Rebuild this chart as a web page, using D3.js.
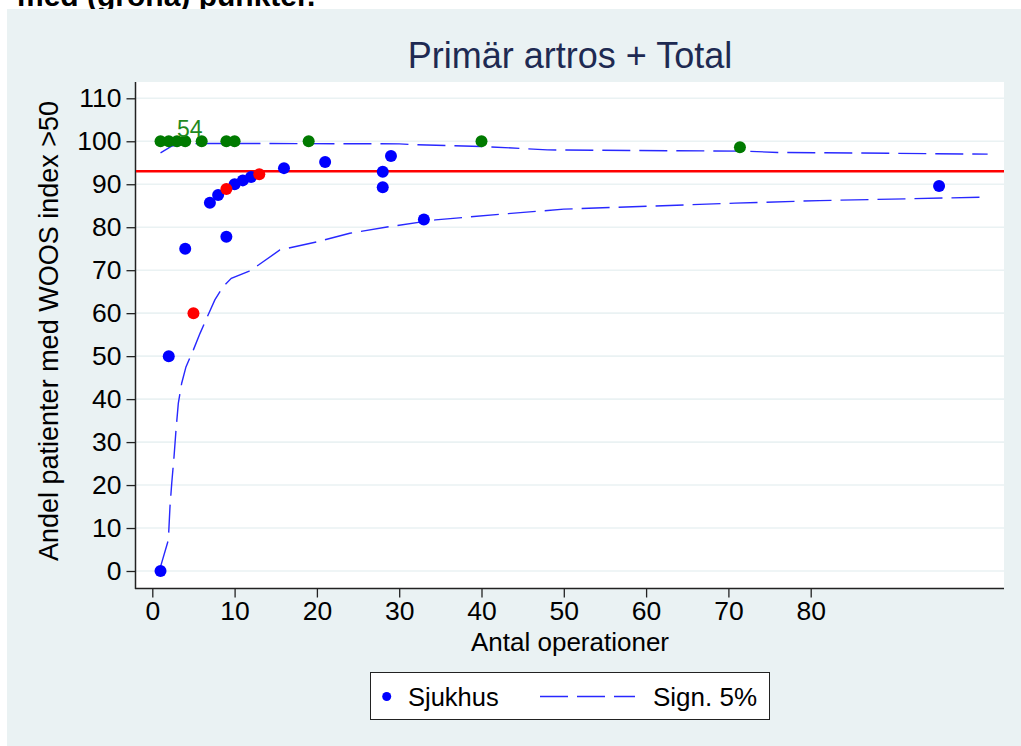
<!DOCTYPE html>
<meta charset="utf-8">
<script src="https://d3js.org/d3.v7.min.js"></script>
<style>
   body {
      margin: 0;
      padding: 0;
      background-color: white;
      font-family: "Liberation Sans", Arial, sans-serif;
   }
</style>

<body>
   <svg id="chart" width="1021" height="746"></svg>
   <script>

      // hospitals (blue)
      var blueN = [1, 2, 4, 7, 8, 9, 10, 11, 12, 16, 21, 28, 28, 29, 33, 95.6]
      var bluePct = [0, 50, 75, 85.7, 87.5, 77.8, 90, 90.9, 91.7, 93.75, 95.2, 92.9, 89.3, 96.6, 81.8, 89.6]

      // flagged (red)
      var redN = [5, 9, 13]
      var redPct = [60, 88.9, 92.3]

      // green points
      var greenN = [1, 2, 3, 4, 6, 9, 10, 19, 40, 71.4]
      var greenPct = [100, 100, 100, 100, 100, 100, 100, 100, 100, 98.6]

      // funnel limits (Sign. 5%)
      var upperN = [1, 2.4, 4, 6, 30, 32, 40, 48, 63, 72, 76, 90, 101.5]
      var upperPct = [97.3, 98.9, 99.4, 99.5, 99.4, 99.2, 98.8, 98.0, 97.8, 97.7, 97.4, 97.2, 97.0]

      var lowerN = [0.94, 1.95, 2.15, 2.36, 2.64, 2.88, 3.16, 3.57, 4.09, 4.98, 5.8, 6.6, 7.6, 8.6, 9.6, 11.7, 12.9, 15.5, 20, 24, 28.7, 34.4, 42.2, 50, 60.4, 70.8, 81.1, 91.5, 100.9]
      var lowerPct = [0.6, 7.2, 15.0, 20.4, 26.6, 32.8, 39.0, 43.7, 47.5, 51.4, 55.3, 58.8, 63.1, 66.2, 68.1, 69.7, 71.2, 74.7, 76.6, 78.6, 80.1, 81.7, 83.0, 84.2, 84.9, 85.6, 86.2, 86.6, 87.0]

      var totalPct = 93.0
      var xTicks = [0, 10, 20, 30, 40, 50, 60, 70, 80]
      var yTicks = [0, 10, 20, 30, 40, 50, 60, 70, 80, 90, 100, 110]
      var pointLabel = { n: 3, pct: 100, text: "54" }

      var svg = d3.select("#chart")

      var plotLeft = 136, plotRight = 1004, plotTop = 82, plotBottom = 588

      var x = d3.scaleLinear().domain([0, 100]).range([152.3, 975.3])
      var y = d3.scaleLinear().domain([0, 110]).range([571, 98.3])

      // cut-off text from the page above
      svg.append("text")
         .attr("x", 17)
         .attr("y", 6)
         .style("font-size", "30px")
         .style("font-weight", "bold")
         .text("med (gröna) punkter.")

      // graph region
      svg.append("rect")
         .attr("x", 7).attr("y", 9)
         .attr("width", 1014).attr("height", 737)
         .attr("fill", "#eaf2f3")

      svg.append("rect")
         .attr("x", plotLeft).attr("y", plotTop)
         .attr("width", plotRight - plotLeft).attr("height", plotBottom - plotTop)
         .attr("fill", "white")

      // grid
      svg.append("g")
         .selectAll("line")
         .data(yTicks)
         .enter()
         .append("line")
         .attr("x1", plotLeft).attr("x2", plotRight)
         .attr("y1", function (d) { return y(d) }).attr("y2", function (d) { return y(d) })
         .attr("stroke", "#eaf2f3")
         .attr("stroke-width", 1.6)

      // axes
      var yAxis = d3.axisLeft(y).tickValues(yTicks).tickSize(9).tickPadding(5)
      var xAxis = d3.axisBottom(x).tickValues(xTicks).tickSize(9).tickPadding(4)

      var gy = svg.append("g")
         .attr("transform", "translate(" + (plotLeft - 0.5) + ",0)")
         .call(yAxis)
      gy.select(".domain").remove()

      var gx = svg.append("g")
         .attr("transform", "translate(0," + (plotBottom + 0.5) + ")")
         .call(xAxis)
      gx.select(".domain").remove()

      svg.selectAll(".tick line").attr("stroke", "#222").attr("stroke-width", 1.3)
      svg.selectAll(".tick text")
         .attr("fill", "black")
         .style("font-family", "'Liberation Sans', Arial, sans-serif")
         .style("font-size", "26.5px")

      svg.append("line")
         .attr("x1", plotLeft - 0.5).attr("x2", plotLeft - 0.5)
         .attr("y1", plotTop).attr("y2", plotBottom + 1)
         .attr("stroke", "#222").attr("stroke-width", 1.5)
      svg.append("line")
         .attr("x1", plotLeft - 1).attr("x2", plotRight)
         .attr("y1", plotBottom + 0.5).attr("y2", plotBottom + 0.5)
         .attr("stroke", "#222").attr("stroke-width", 1.5)

      // funnel limits
      var line = d3.line()
         .x(function (d) { return x(d[0]) })
         .y(function (d) { return y(d[1]) })

      var upper = d3.zip(upperN, upperPct)
      var lower = d3.zip(lowerN, lowerPct)

      svg.selectAll("path.limit")
         .data([upper, lower])
         .enter()
         .append("path")
         .attr("class", "limit")
         .attr("d", line)
         .attr("fill", "none")
         .attr("stroke", "#2828ff")
         .attr("stroke-width", 1.4)
         .attr("stroke-dasharray", "28,9")

      // total reference line
      svg.append("line")
         .attr("x1", plotLeft).attr("x2", plotRight)
         .attr("y1", y(totalPct)).attr("y2", y(totalPct))
         .attr("stroke", "#ff0000")
         .attr("stroke-width", 2.5)

      // points
      function dots(ns, pcts, color) {
         svg.append("g")
            .selectAll("circle")
            .data(d3.zip(ns, pcts))
            .enter()
            .append("circle")
            .attr("cx", function (d) { return x(d[0]) })
            .attr("cy", function (d) { return y(d[1]) })
            .attr("r", 6)
            .attr("fill", color)
      }
      dots(blueN, bluePct, "#0000ff")
      dots(redN, redPct, "#ff0000")
      dots(greenN, greenPct, "#007a00")

      svg.append("text")
         .attr("x", x(pointLabel.n))
         .attr("y", y(pointLabel.pct) - 4)
         .attr("fill", "#1f8a1f")
         .style("font-size", "23px")
         .text(pointLabel.text)

      // titles
      svg.append("text")
         .attr("x", (plotLeft + plotRight) / 2)
         .attr("y", 68)
         .attr("text-anchor", "middle")
         .attr("fill", "#1e2a52")
         .style("font-size", "36px")
         .text("Primär artros + Total")

      svg.append("text")
         .attr("transform", "translate(58,331) rotate(-90)")
         .attr("text-anchor", "middle")
         .style("font-size", "27px")
         .text("Andel patienter med WOOS index >50")

      svg.append("text")
         .attr("x", (plotLeft + plotRight) / 2)
         .attr("y", 651)
         .attr("text-anchor", "middle")
         .style("font-size", "26px")
         .text("Antal operationer")

      // legend
      var legend = svg.append("g")
      legend.append("rect")
         .attr("x", 370.5).attr("y", 672.5)
         .attr("width", 399).attr("height", 47)
         .attr("fill", "white")
         .attr("stroke", "#222")
         .attr("stroke-width", 1)
      legend.append("circle")
         .attr("cx", 386.7).attr("cy", 696.5)
         .attr("r", 4.5)
         .attr("fill", "#0000ff")
      legend.append("text")
         .attr("x", 408).attr("y", 705.5)
         .style("font-size", "25.5px")
         .text("Sjukhus")
      legend.append("line")
         .attr("x1", 540).attr("x2", 635)
         .attr("y1", 696.5).attr("y2", 696.5)
         .attr("stroke", "#2828ff")
         .attr("stroke-width", 1.3)
         .attr("stroke-dasharray", "28,9")
      legend.append("text")
         .attr("x", 653).attr("y", 705.5)
         .style("font-size", "26px")
         .text("Sign. 5%")

   </script>
</body>
